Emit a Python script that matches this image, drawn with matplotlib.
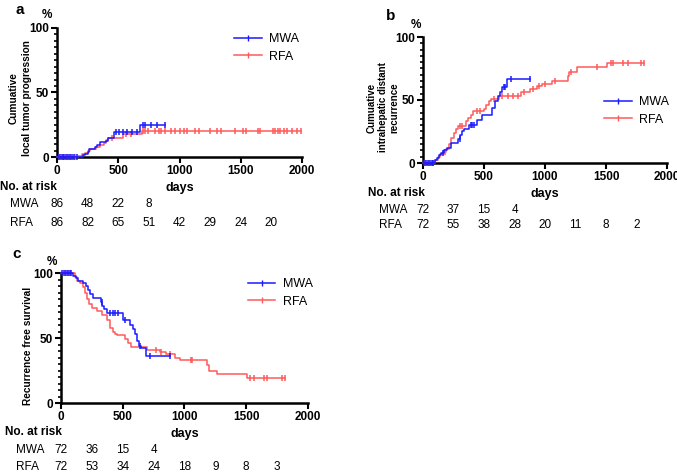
import numpy as np
import matplotlib
matplotlib.use("Agg")
import matplotlib.pyplot as plt
from matplotlib.lines import Line2D
from matplotlib.ticker import MultipleLocator
import matplotlib.transforms as mtransforms

plt.rcParams['font.family'] = ['Liberation Sans', 'DejaVu Sans']

BLUE = "#1a1aff"
RED = "#ff5a5a"

# ---- panel a: cumulative local tumor progression ----
aMwaT = [0, 210, 230, 250, 265, 310, 330, 350, 400, 420, 465, 680]
aMwaV = [0, 1.2, 2.5, 4, 6, 7.5, 9.5, 11.5, 12.5, 15, 19, 25]
aMwaEnd = 880
aMwaCens = [15, 30, 45, 60, 75, 90, 105, 120, 140, 160, 480, 510, 540, 570, 610, 650, 700, 720, 770, 820, 880]
aRfaT = [0, 170, 200, 230, 250, 270, 320, 350, 380, 400, 420, 540, 690]
aRfaV = [0, 1, 2, 3, 4.5, 6, 7.5, 9, 11, 13, 15, 17.5, 20]
aRfaEnd = 1990
aRfaCens = [20, 50, 80, 110, 150, 450, 560, 600, 700, 720, 740, 800, 830, 850, 880, 930, 960,
            1000, 1040, 1060, 1130, 1160, 1250, 1310, 1340, 1450, 1520, 1540, 1640, 1660,
            1760, 1780, 1800, 1820, 1850, 1880, 1920, 1960, 1990]
aRisk = {"MWA": [86, 48, 22, 8], "RFA": [86, 82, 65, 51, 42, 29, 24, 20]}

# ---- panel b: cumulative intrahepatic distant recurrence ----
bMwaT = [0, 100, 115, 130, 150, 170, 200, 230, 290, 305, 320, 340, 380, 440, 480, 565, 590, 615, 630, 650, 690]
bMwaV = [0, 2, 4, 6, 8, 10, 12, 15.5, 19, 22, 25, 27, 30, 34, 38, 44, 49, 53, 56, 60, 67]
bMwaEnd = 880
bMwaCens = [10, 25, 40, 55, 70, 85, 160, 300, 390, 405, 420, 660, 675, 720, 880]
bRfaT = [0, 100, 120, 140, 160, 190, 210, 230, 250, 270, 290, 350, 370, 390, 410, 500, 520, 545, 560,
         620, 800, 880, 935, 975, 1060, 1185, 1200, 1260, 1510]
bRfaV = [0, 2, 5, 7, 9, 11, 15, 20, 24, 27, 29, 33, 36, 38, 41, 43, 46, 49, 51,
         53, 56, 59, 61, 63, 65, 69, 72, 76, 79]
bRfaEnd = 1810
bRfaCens = [20, 50, 80, 180, 300, 320, 440, 470, 580, 650, 700, 740, 780, 830, 900, 950, 1000,
            1080, 1210, 1430, 1540, 1560, 1640, 1680, 1790, 1810]
bRisk = {"MWA": [72, 37, 15, 4], "RFA": [72, 55, 38, 28, 20, 11, 8, 2]}

# ---- panel c: recurrence free survival ----
cMwaT = [0, 100, 120, 140, 175, 200, 215, 235, 260, 320, 335, 350, 370, 505, 560, 585, 600, 615, 630, 645, 690]
cMwaV = [100, 98, 96, 94, 92, 90, 87, 84, 81, 78, 75, 72, 69, 64, 60, 57, 53, 48, 44, 42, 36]
cMwaEnd = 880
cMwaCens = [10, 25, 40, 55, 70, 85, 330, 400, 420, 440, 460, 520, 640, 720, 880]
cRfaT = [0, 110, 130, 150, 175, 195, 210, 225, 250, 290, 330, 370, 395, 420, 440, 455, 520, 545, 570,
         700, 800, 850, 920, 965, 1185, 1200, 1260, 1510]
cRfaV = [100, 97, 94, 92, 89, 85, 80, 76, 73, 71, 68, 64, 58, 55, 53, 52, 49, 46, 43,
         41, 39, 38, 35, 33, 29, 25, 22, 19]
cRfaEnd = 1815
cRfaCens = [30, 60, 770, 810, 880, 1050, 1060, 1530, 1560, 1640, 1670, 1790, 1815]
cRisk = {"MWA": [72, 36, 15, 4], "RFA": [72, 53, 34, 24, 18, 9, 8, 3]}

riskDays = [0, 250, 500, 750, 1000, 1250, 1500, 1750]

W, H = 677, 473
fig = plt.figure(figsize=(W / 100, H / 100), dpi=100)


def box(left, top, right, bottom):
    return [left / W, (H - bottom) / H, (right - left) / W, (bottom - top) / H]


def kmCurve(ax, times, vals, end, cens, color):
    ax.step(times + [end], vals + [vals[-1]], where='post', color=color, lw=1.1, clip_on=False, zorder=3)
    idx = np.searchsorted(times, cens, side='right') - 1
    ax.plot(cens, np.array(vals)[idx], ls='none', marker='|', ms=4, mew=1.1, color=color,
            clip_on=False, zorder=3)


def styleAxis(ax):
    ax.set_xlim(0, 2000)
    ax.set_ylim(0, 100)
    for s in ['top', 'right']:
        ax.spines[s].set_visible(False)
    for s in ['left', 'bottom']:
        ax.spines[s].set_linewidth(1.8)
    ax.set_xticks([0, 500, 1000, 1500, 2000])
    ax.set_yticks([0, 50, 100])
    ax.yaxis.set_minor_locator(MultipleLocator(5))
    ax.tick_params(which='major', length=4, width=1.5, labelsize=8.5, pad=2)
    ax.tick_params(which='minor', length=2.5, width=1.2)
    for lab in ax.get_xticklabels() + ax.get_yticklabels():
        lab.set_fontweight('bold')


def legend(ax, loc, anchor):
    handles = [Line2D([], [], color=BLUE, marker='|', ms=4, lw=1.1),
               Line2D([], [], color=RED, marker='|', ms=4, lw=1.1)]
    ax.legend(handles, ["MWA", "RFA"], loc=loc, bbox_to_anchor=anchor, frameon=False,
              fontsize=9, handlelength=2.2, labelspacing=0.45, borderaxespad=0, handletextpad=0.6)


def riskTable(ax, risk, yHead, yMwa, yRfa, xHead, xGroup):
    tr = mtransforms.blended_transform_factory(ax.transData, fig.transFigure)
    fig.text(xHead / W, 1 - yHead / H, "No. at risk", fontsize=8.5, fontweight='bold', va='center')
    for name, y in [("MWA", yMwa), ("RFA", yRfa)]:
        fig.text(xGroup / W, 1 - y / H, name, fontsize=8.5, va='center')
        for d, n in zip(riskDays, risk[name]):
            ax.text(d, 1 - y / H, str(n), transform=tr, fontsize=8.5, ha='center', va='center',
                    clip_on=False)


# panel a
axA = fig.add_axes(box(57, 28, 302, 157))
kmCurve(axA, aRfaT, aRfaV, aRfaEnd, aRfaCens, RED)
kmCurve(axA, aMwaT, aMwaV, aMwaEnd, aMwaCens, BLUE)
styleAxis(axA)
axA.set_xlabel("days", fontsize=9, fontweight='bold', labelpad=3)
axA.set_ylabel("Cumuative\nlocal tumor progression", fontsize=7.3, fontweight='bold',
               linespacing=1.5, va='center')
axA.yaxis.set_label_coords(-0.15, 0.46)
legend(axA, 'upper right', (1.01, 1.0))
fig.text(15 / W, 1 - 10 / H, "a", fontsize=11, fontweight='bold', va='center')
fig.text(42 / W, 1 - 15 / H, "%", fontsize=8.5, fontweight='bold', va='center')
riskTable(axA, aRisk, 187, 204, 223, 0, 10)

# panel b
axB = fig.add_axes(box(423, 37, 667, 163))
kmCurve(axB, bRfaT, bRfaV, bRfaEnd, bRfaCens, RED)
kmCurve(axB, bMwaT, bMwaV, bMwaEnd, bMwaCens, BLUE)
styleAxis(axB)
axB.set_xlabel("days", fontsize=9, fontweight='bold', labelpad=3)
axB.set_ylabel("Cumuative\nintrahepatic distant\nrecurrence", fontsize=7, fontweight='bold',
               linespacing=1.15, va='center')
axB.yaxis.set_label_coords(-0.165, 0.44)
legend(axB, 'upper right', (1.03, 0.57))
fig.text(386 / W, 1 - 16 / H, "b", fontsize=11, fontweight='bold', va='center')
fig.text(411 / W, 1 - 25 / H, "%", fontsize=8.5, fontweight='bold', va='center')
riskTable(axB, bRisk, 193, 210, 225, 368, 379)

# panel c
axC = fig.add_axes(box(61, 273, 308, 403))
kmCurve(axC, cRfaT, cRfaV, cRfaEnd, cRfaCens, RED)
kmCurve(axC, cMwaT, cMwaV, cMwaEnd, cMwaCens, BLUE)
styleAxis(axC)
axC.set_xlabel("days", fontsize=9, fontweight='bold', labelpad=3)
axC.set_ylabel("Recurrence free survival", fontsize=7.3, fontweight='bold', va='center')
axC.yaxis.set_label_coords(-0.135, 0.44)
legend(axC, 'upper right', (1.04, 1.0))
fig.text(12 / W, 1 - 254 / H, "c", fontsize=11, fontweight='bold', va='center')
fig.text(47 / W, 1 - 262 / H, "%", fontsize=8.5, fontweight='bold', va='center')
riskTable(axC, cRisk, 432, 450, 467, 5, 16)

fig.savefig("out.png", dpi=100)
